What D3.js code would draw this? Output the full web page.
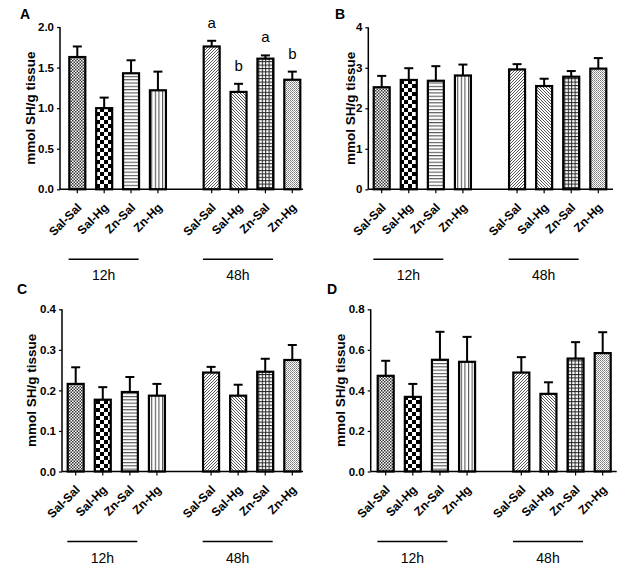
<!DOCTYPE html>
<html><head><meta charset="utf-8">
<script src="https://cdn.jsdelivr.net/npm/d3@7"></script>
<style>
body{margin:0;background:#fff;}
svg{display:block;font-family:Arial,"Liberation Sans",sans-serif;}
</style></head>
<body><svg id="c" width="641" height="580"></svg>
<script>
const categories = ["Sal-Sal","Sal-Hg","Zn-Sal","Zn-Hg","Sal-Sal","Sal-Hg","Zn-Sal","Zn-Hg"];
const groups = ["12h","48h"];
const slots = [0,1,2,3,5,6,7,8];
const patterns = ["p1","p2","p3","p4","p5","p6","p7","p8"];

const valuesA = [1.63,1.00,1.43,1.22,1.76,1.20,1.61,1.35];
const errA    = [0.13,0.13,0.16,0.23,0.07,0.10,0.04,0.10];
const lettersA = ["","","","","a","b","a","b"];
const ticksA  = [0,0.5,1.0,1.5,2.0];

const valuesB = [2.52,2.70,2.68,2.81,2.96,2.55,2.78,2.98];
const errB    = [0.28,0.29,0.36,0.27,0.13,0.18,0.14,0.26];
const ticksB  = [0,1,2,3,4];

const valuesC = [0.216,0.177,0.196,0.187,0.244,0.187,0.246,0.275];
const errC    = [0.041,0.031,0.037,0.029,0.014,0.027,0.032,0.037];
const ticksC  = [0,0.1,0.2,0.3,0.4];

const valuesD = [0.472,0.368,0.551,0.541,0.488,0.383,0.557,0.584];
const errD    = [0.074,0.064,0.138,0.123,0.076,0.057,0.081,0.103];
const ticksD  = [0,0.2,0.4,0.6,0.8];

const yLabel = "mmol SH/g tissue";

const svg = d3.select("#c");
const defs = svg.append("defs");

// patterns
function pat(id,w,h){return defs.append("pattern").attr("id",id).attr("patternUnits","userSpaceOnUse").attr("width",w).attr("height",h);}
let p;
p = pat("p1",3,3); p.append("rect").attr("width",3).attr("height",3).attr("fill","#fff");
p.append("rect").attr("width",1.5).attr("height",1.5).attr("fill","#333");
p.append("rect").attr("x",1.5).attr("y",1.5).attr("width",1.5).attr("height",1.5).attr("fill","#333");
p = pat("p2",8,8); p.append("rect").attr("width",8).attr("height",8).attr("fill","#fff");
p.append("rect").attr("width",4).attr("height",4).attr("fill","#000");
p.append("rect").attr("x",4).attr("y",4).attr("width",4).attr("height",4).attr("fill","#000");
p = pat("p3",4,3.3); p.append("rect").attr("width",4).attr("height",3.3).attr("fill","#fff");
p.append("rect").attr("y",0).attr("width",4).attr("height",1.1).attr("fill","#555");
p = pat("p4",3.6,4); p.append("rect").attr("width",3.6).attr("height",4).attr("fill","#fff");
p.append("rect").attr("x",0).attr("width",1.1).attr("height",4).attr("fill","#555");
p = pat("p5",3,3); p.append("rect").attr("width",3).attr("height",3).attr("fill","#fff");
p.append("path").attr("d","M-1,1 L1,-1 M0,3 L3,0 M2,4 L4,2").attr("stroke","#444").attr("stroke-width",0.9);
p = pat("p6",3,3); p.append("rect").attr("width",3).attr("height",3).attr("fill","#fff");
p.append("path").attr("d","M-1,2 L1,4 M0,0 L3,3 M2,-1 L4,1").attr("stroke","#444").attr("stroke-width",0.9);
p = pat("p7",3.4,3.4); p.append("rect").attr("width",3.4).attr("height",3.4).attr("fill","#fff");
p.append("rect").attr("width",3.4).attr("height",1).attr("fill","#222");
p.append("rect").attr("width",1).attr("height",3.4).attr("fill","#222");
p = pat("p8",2,2); p.append("rect").attr("width",2).attr("height",2).attr("fill","#fff");
p.append("rect").attr("width",1).attr("height",1).attr("fill","#777");
p.append("rect").attr("x",1).attr("y",1).attr("width",1).attr("height",1).attr("fill","#999");

const panels = [
 {label:"A", values:valuesA, err:errA, letters:lettersA, ticks:ticksA, fmt:d3.format(".1f"),
  axisX:60, y0:189.3, yTop:27, first:77.3, last:292.3, axisEnd:303, lx:20, ly:19, ylx:30},
 {label:"B", values:valuesB, err:errB, letters:null, ticks:ticksB, fmt:d3.format("d"),
  axisX:368.3, y0:189.3, yTop:27.3, first:381.7, last:598.3, axisEnd:613, lx:335, ly:19, ylx:350},
 {label:"C", values:valuesC, err:errC, letters:null, ticks:ticksC, fmt:d3.format(".1f"),
  axisX:62, y0:471.5, yTop:309.3, first:75.7, last:292.3, axisEnd:303, lx:17, ly:294, ylx:31.5},
 {label:"D", values:valuesD, err:errD, letters:null, ticks:ticksD, fmt:d3.format(".1f"),
  axisX:370.7, y0:471.5, yTop:309.3, first:385.7, last:602.7, axisEnd:616.7, lx:327, ly:294, ylx:340.5}
];

panels.forEach(P=>{
  const g = svg.append("g");
  const y = d3.scaleLinear().domain([P.ticks[0], P.ticks[P.ticks.length-1]]).range([P.y0, P.yTop]);
  const x = d3.scaleLinear().domain([0,8]).range([P.first, P.last]);
  const bw = 18;

  g.append("text").attr("x",P.lx).attr("y",P.ly).attr("font-size",14).attr("font-weight","bold").text(P.label);

  g.append("text").attr("transform",`translate(${P.ylx},${(P.y0+P.yTop)/2}) rotate(-90)`)
    .attr("text-anchor","middle").attr("dy","0.35em").attr("font-size",13.5).attr("font-weight","bold").text(yLabel);

  const data = P.values.map((v,i)=>({v, e:P.err[i], s:slots[i], pat:patterns[i], cat:categories[i], let:P.letters?P.letters[i]:""}));
  data.forEach(d=>{
    const cx = x(d.s);
    g.append("line").attr("x1",cx).attr("x2",cx).attr("y1",y(d.v)).attr("y2",y(d.v+d.e)).attr("stroke","#000").attr("stroke-width",2);
    g.append("line").attr("x1",cx-4.5).attr("x2",cx+4.5).attr("y1",y(d.v+d.e)).attr("y2",y(d.v+d.e)).attr("stroke","#000").attr("stroke-width",2);
  });
  g.selectAll("rect.bar").data(data).enter().append("rect").attr("class","bar")
    .attr("x",d=>x(d.s)-bw/2+1).attr("width",bw-2)
    .attr("y",d=>y(d.v)).attr("height",d=>P.y0-y(d.v))
    .attr("fill",d=>`url(#${d.pat})`).attr("stroke","#000").attr("stroke-width",2.2);
  data.forEach(d=>{
    if(d.let){
      g.append("text").attr("x",x(d.s)).attr("y",y(d.v+d.e)-13).attr("text-anchor","middle")
        .attr("font-size",15).text(d.let);
    }
  });

  const ya = d3.axisLeft(y).tickValues(P.ticks).tickFormat(P.fmt).tickSize(3).tickPadding(3);
  const yg = g.append("g").attr("transform",`translate(${P.axisX},0)`).call(ya);
  yg.select(".domain").remove();
  yg.append("line").attr("x1",0).attr("x2",0).attr("y1",P.y0).attr("y2",P.yTop).attr("stroke","#000").attr("stroke-width",1.5);
  yg.selectAll(".tick line").attr("stroke","#000").attr("stroke-width",1.2);
  yg.selectAll(".tick text").attr("font-size",11.5).attr("font-weight","bold").attr("font-family","Arial,'Liberation Sans',sans-serif").attr("fill","#000");

  g.append("line").attr("x1",P.axisX).attr("x2",P.axisEnd).attr("y1",P.y0).attr("y2",P.y0).attr("stroke","#000").attr("stroke-width",1.5);
  data.forEach(d=>{
    const cx = x(d.s);
    g.append("line").attr("x1",cx).attr("x2",cx).attr("y1",P.y0).attr("y2",P.y0+4).attr("stroke","#000").attr("stroke-width",1.2);
    g.append("text").attr("transform",`translate(${cx+2},${P.y0+16}) rotate(-45)`)
      .attr("text-anchor","end").attr("dy","0.35em").attr("font-size",12).attr("font-weight","bold").text(d.cat);
  });

  groups.forEach((gr,gi)=>{
    const c = (x(gi*5) + x(gi*5+3))/2 - 14;
    g.append("line").attr("x1",c-35).attr("x2",c+35).attr("y1",P.y0+70).attr("y2",P.y0+70).attr("stroke","#000").attr("stroke-width",1.5);
    g.append("text").attr("x",c).attr("y",P.y0+91).attr("text-anchor","middle").attr("font-size",14).text(gr);
  });
});
</script>
</body></html>
